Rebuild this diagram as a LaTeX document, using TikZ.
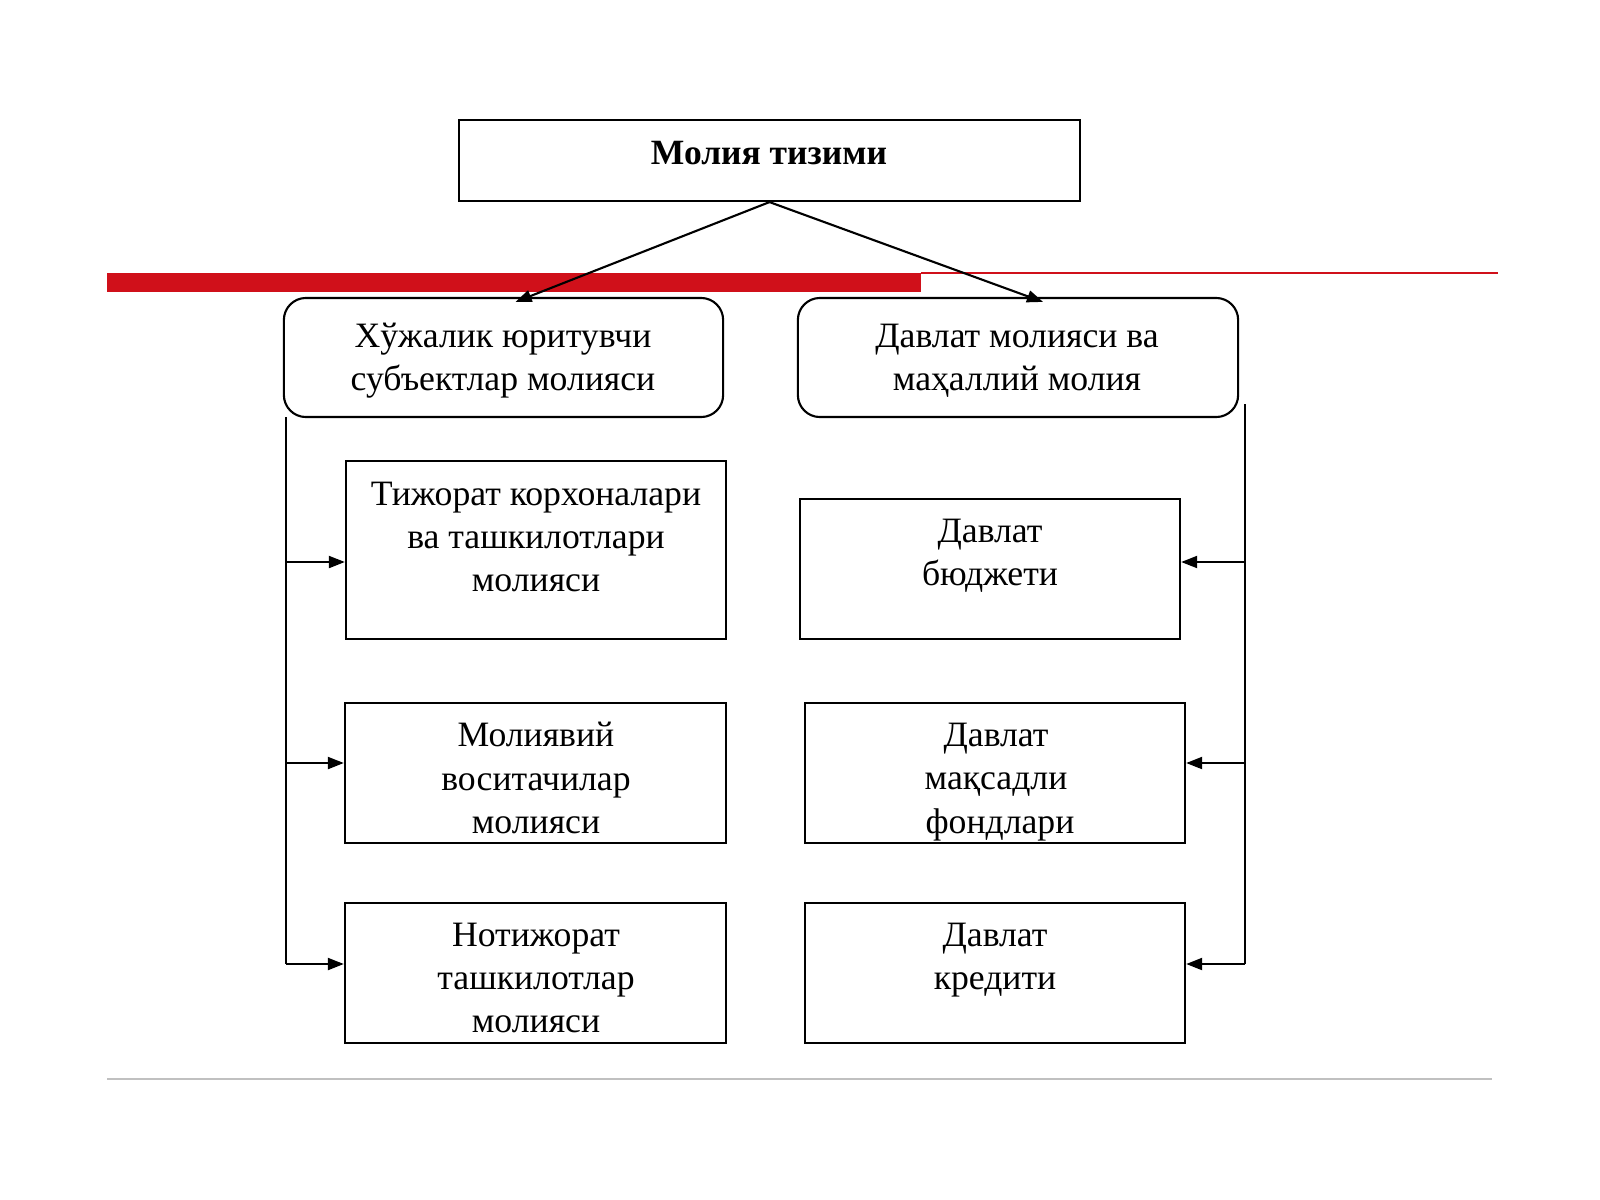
\documentclass[tikz,border=0pt]{standalone}
\usepackage{fontspec}
\setmainfont{Liberation Serif}
\usetikzlibrary{arrows.meta}
\definecolor{barred}{RGB}{208,16,26}
\definecolor{rulegray}{RGB}{192,192,192}
\begin{document}
\begin{tikzpicture}[x=0.01cm,y=-0.01cm,
	box/.style={draw,line width=0.6pt,inner sep=0pt},
	rbox/.style={box,rounded corners=0.22cm},
	txt/.style={align=center,inner sep=0pt,font=\fontsize{10.15}{12.3}\selectfont},
	arr/.style={line width=0.6pt,-{Triangle[length=0.16cm,width=0.12cm]}}]
	\useasboundingbox[fill=white] (0,0) rectangle (1600,1200);% the slide
	\fill[barred] (107,273) rectangle (921,292);
	\draw[barred,line width=0.45pt] (921,273) -- (1498,273);
	\draw[rulegray,line width=0.8pt] (107,1079) -- (1492,1079);
	% top
	\node[box,minimum width=6.21cm,minimum height=0.81cm] (sys) at (769.5,160.5) {};
	\node[txt,font=\bfseries\fontsize{10.1}{12.3}\selectfont] (sysT) at (769,153) {Молия тизими};
	\node[rbox,minimum width=4.39cm,minimum height=1.19cm] (hl) at (503.5,357.5) {};
	\node[txt] (hlT) at (503,361) {Хўжалик юритувчи\\субъектлар молияси};
	\node[rbox,minimum width=4.40cm,minimum height=1.19cm] (hr) at (1018,357.5) {};
	\node[txt] (hrT) at (1017,361) {Давлат молияси ва\\маҳаллий молия};
	\draw[arr] (sys.south) -- ([xshift=0.12cm,yshift=-0.05cm]hl.north);
	\draw[arr] (sys.south) -- ([xshift=0.25cm,yshift=-0.05cm]hr.north);
	% left column
	\node[box,minimum width=3.80cm,minimum height=1.78cm] (l1) at (536,550) {};
	\node[txt] (l1T) at (536,537) {Тижорат корхоналари\\ва ташкилотлари\\молияси};
	\node[box,minimum width=3.81cm,minimum height=1.40cm] (l2) at (535.5,773) {};
	\node[txt] (l2T) at (536,778) {Молиявий\\воситачилар\\молияси};
	\node[box,minimum width=3.81cm,minimum height=1.40cm] (l3) at (535.5,973) {};
	\node[txt] (l3T) at (536,978) {Нотижорат\\ташкилотлар\\молияси};
	% right column
	\node[box,minimum width=3.80cm,minimum height=1.40cm] (r1) at (990,569) {};
	\node[txt] (r1T) at (990,556) {Давлат\\бюджети};
	\node[box,minimum width=3.80cm,minimum height=1.40cm] (r2) at (995,773) {};
	\node[txt] (r2T) at (996,782) {Давлат\\мақсадли\\\hspace{0.08cm}фондлари};
	\node[box,minimum width=3.80cm,minimum height=1.40cm] (r3) at (995,973) {};
	\node[txt] (r3T) at (995,960) {Давлат\\кредити};
	% trunks
	\coordinate (lt) at (286,417);
	\coordinate (la) at (286,562);
	\coordinate (lb) at (286,763);
	\coordinate (lc) at (286,964);
	\coordinate (rt) at (1245,404);
	\coordinate (ra) at (1245,562);
	\coordinate (rb) at (1245,763);
	\coordinate (rc) at (1245,964);
	\draw[line width=0.6pt] (lt) -- (lc);
	\draw[line width=0.6pt] (rt) -- (rc);
	\draw[arr] (la) -- (la -| l1.west);
	\draw[arr] (lb) -- (lb -| l2.west);
	\draw[arr] (lc) -- (lc -| l3.west);
	\draw[arr] (ra) -- (ra -| r1.east);
	\draw[arr] (rb) -- (rb -| r2.east);
	\draw[arr] (rc) -- (rc -| r3.east);
\end{tikzpicture}
\end{document}
